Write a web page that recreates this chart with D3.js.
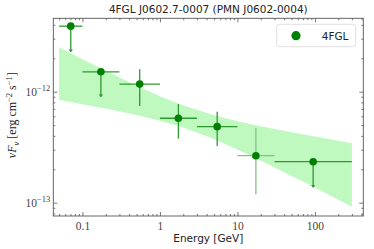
<!DOCTYPE html>
<html>
<head>
<meta charset="utf-8">
<script src="https://cdn.jsdelivr.net/npm/d3@7"></script>
<style>
  body { margin: 0; background: #fff; }
  svg { display: block; }
  .tick text { font-family: "Liberation Serif", serif; font-size: 11.5px; fill: #444; }
</style>
</head>
<body>
<div class="chart"></div>
<script>
// bins in GeV
var binLo = [0.05, 0.1, 0.3, 1, 3, 10, 30];
var binHi = [0.1, 0.3, 1, 3, 10, 30, 300];
var energy = [0.0707, 0.173, 0.548, 1.73, 5.48, 17.3, 94.9];
// nuFnu in erg cm^-2 s^-1
var flux = [3.89e-12, 1.51e-12, 1.17e-12, 5.76e-13, 4.84e-13, 2.65e-13, 2.34e-13];
var fluxHi = [3.89e-12, 1.51e-12, 1.59e-12, 7.74e-13, 6.6e-13, 4.74e-13, 2.34e-13];
var fluxLo = [2.29e-12, 9.0e-13, 7.43e-13, 3.78e-13, 3.24e-13, 1.19e-13, 1.38e-13];
var isUL = [true, true, false, false, false, false, true];
var faint = [false, false, false, false, false, true, false];

// butterfly of the spectral model
var bandE = [0.05, 0.1, 0.2, 0.5, 1, 2, 5, 10, 20, 50, 100, 300];
var bandUp = [2.51e-12, 1.96e-12, 1.54e-12, 1.13e-12, 9.1e-13, 7.51e-13, 6.12e-13, 5.42e-13, 4.88e-13, 4.31e-13, 3.94e-13, 3.44e-13];
var bandDn = [8.44e-13, 7.71e-13, 7.04e-13, 6.16e-13, 5.47e-13, 4.75e-13, 3.74e-13, 3.02e-13, 2.40e-13, 1.74e-13, 1.37e-13, 9.2e-14];

var xTicks = [0.1, 1, 10, 100];
var yTicks = [1e-13, 1e-12];

var W = 374, H = 249;
var margin = {top: 18.3, right: 10.7, bottom: 33, left: 53.3};
var width = W - margin.left - margin.right,
    height = H - margin.top - margin.bottom;

var svg = d3.select(".chart").append("svg")
    .attr("width", W).attr("height", H);
var g = svg.append("g")
    .attr("transform", "translate(" + margin.left + "," + margin.top + ")");

var x = d3.scaleLog().domain([Math.pow(10, -1.376), Math.pow(10, 2.624)]).range([0, width]);
var y = d3.scaleLog().domain([7.59e-14, 4.58e-12]).range([height, 0]);

// minor tick values
var xMinor = [], yMinor = [];
for (var e = -2; e <= 2; e++) for (var m = 2; m <= 9; m++) {
  var v = m * Math.pow(10, e);
  if (v > x.domain()[0] && v < x.domain()[1]) xMinor.push(v);
}
for (var e2 = -14; e2 <= -12; e2++) for (var m2 = 2; m2 <= 9; m2++) {
  var v2 = m2 * Math.pow(10, e2);
  if (v2 > y.domain()[0] && v2 < y.domain()[1]) yMinor.push(v2);
}

// band
var area = d3.area()
    .x(function(d, i) { return x(bandE[i]); })
    .y0(function(d, i) { return y(bandDn[i]); })
    .y1(function(d, i) { return y(bandUp[i]); });
g.append("path").datum(bandE)
    .attr("d", area)
    .attr("fill", "#bff9bf");

// error bars
var errs = g.append("g");
energy.forEach(function(E, i) {
  var col = faint[i] ? "#7fc47f" : "#2e992e";
  errs.append("line")
      .attr("x1", x(binLo[i])).attr("x2", x(binHi[i]))
      .attr("y1", y(flux[i])).attr("y2", y(flux[i]))
      .attr("stroke", col).attr("stroke-width", 1.3);
  errs.append("line")
      .attr("x1", x(E)).attr("x2", x(E))
      .attr("y1", y(fluxHi[i])).attr("y2", y(fluxLo[i]))
      .attr("stroke", col).attr("stroke-width", 1.3);
  if (isUL[i]) {
    var ax = x(E), ay = y(fluxLo[i]);
    errs.append("path")
        .attr("d", "M" + (ax - 2.2) + "," + (ay - 2.2) + "L" + (ax + 2.2) + "," + (ay - 2.2) + "L" + ax + "," + (ay + 0.6) + "Z")
        .attr("fill", col);
  }
});

g.selectAll("circle.pt")
    .data(energy)
    .enter().append("circle")
    .attr("class", "pt")
    .attr("cx", function(d) { return x(d); })
    .attr("cy", function(d, i) { return y(flux[i]); })
    .attr("r", 3.8)
    .attr("fill", "#008000");

// axes, ticks pointing inward on all four sides
function styleAxis(sel) {
  sel.select(".domain").remove();
  sel.selectAll(".tick line").attr("stroke", "#555").attr("stroke-width", 0.8);
}
var supFmt = function(d) { return ""; };

var xAxis = g.append("g").attr("transform", "translate(0," + height + ")")
    .call(d3.axisBottom(x).tickValues(xTicks).tickSize(-4).tickPadding(6)
      .tickFormat(function(d) { return d3.format("~g")(d); }));
styleAxis(xAxis);
var xAxisMinor = g.append("g").attr("transform", "translate(0," + height + ")")
    .call(d3.axisBottom(x).tickValues(xMinor).tickSize(-2).tickFormat(supFmt));
styleAxis(xAxisMinor);
styleAxis(g.append("g").call(d3.axisTop(x).tickValues(xTicks).tickSize(-4).tickFormat(supFmt)));
styleAxis(g.append("g").call(d3.axisTop(x).tickValues(xMinor).tickSize(-2).tickFormat(supFmt)));

var yAxis = g.append("g")
    .call(d3.axisLeft(y).tickValues(yTicks).tickSize(-4).tickPadding(3).tickFormat(supFmt));
styleAxis(yAxis);
yAxis.selectAll(".tick text").each(function(d) {
  var t = d3.select(this);
  t.append("tspan").text("10");
  t.append("tspan").attr("dy", -5).attr("font-size", "8.5px")
    .text("\u2212" + Math.round(-Math.log10(d)));
});
styleAxis(g.append("g").call(d3.axisLeft(y).tickValues(yMinor).tickSize(-2).tickFormat(supFmt)));
styleAxis(g.append("g").attr("transform", "translate(" + width + ",0)")
    .call(d3.axisRight(y).tickValues(yTicks).tickSize(-4).tickFormat(supFmt)));
styleAxis(g.append("g").attr("transform", "translate(" + width + ",0)")
    .call(d3.axisRight(y).tickValues(yMinor).tickSize(-2).tickFormat(supFmt)));

// frame
g.append("rect")
    .attr("width", width).attr("height", height)
    .attr("fill", "none").attr("stroke", "#555").attr("stroke-width", 0.9);

// title and labels
svg.append("text")
    .attr("x", margin.left + width / 2).attr("y", 13)
    .attr("text-anchor", "middle")
    .attr("font-family", "DejaVu Sans, sans-serif").attr("font-size", "10.5px")
    .attr("fill", "#222")
    .text("4FGL J0602.7-0007 (PMN J0602-0004)");

svg.append("text")
    .attr("x", margin.left + width / 2).attr("y", 242)
    .attr("text-anchor", "middle")
    .attr("font-family", "DejaVu Sans, sans-serif").attr("font-size", "10.5px")
    .attr("fill", "#222")
    .text("Energy [GeV]");

var yl = svg.append("text")
    .attr("transform", "translate(16," + (margin.top + height / 2 - 2) + ") rotate(-90)")
    .attr("text-anchor", "middle")
    .attr("font-family", "Liberation Serif, serif").attr("font-size", "12px")
    .attr("fill", "#222");
yl.append("tspan").attr("font-style", "italic").text("\u03bdF");
yl.append("tspan").attr("font-style", "italic").attr("font-size", "8.5px").attr("dy", 2.5).text("\u03bd");
yl.append("tspan").attr("dy", -2.5).text(" [erg cm");
yl.append("tspan").attr("font-size", "8.5px").attr("dy", -4.5).text("\u22122");
yl.append("tspan").attr("dy", 4.5).text(" s");
yl.append("tspan").attr("font-size", "8.5px").attr("dy", -4.5).text("\u22121");
yl.append("tspan").attr("dy", 4.5).text("]");

// legend
var lg = svg.append("g").attr("transform", "translate(276.7,24.3)");
lg.append("rect")
    .attr("width", 79).attr("height", 22.4).attr("rx", 2.5)
    .attr("fill", "#fff").attr("fill-opacity", 0.8)
    .attr("stroke", "#d8d8d8").attr("stroke-width", 0.8);
lg.append("circle").attr("cx", 19.3).attr("cy", 11.4).attr("r", 4.6).attr("fill", "#008000");
lg.append("text").attr("x", 45).attr("y", 15.3)
    .attr("font-family", "DejaVu Sans, sans-serif").attr("font-size", "10.5px")
    .attr("fill", "#222")
    .text("4FGL");
</script>
</body>
</html>
